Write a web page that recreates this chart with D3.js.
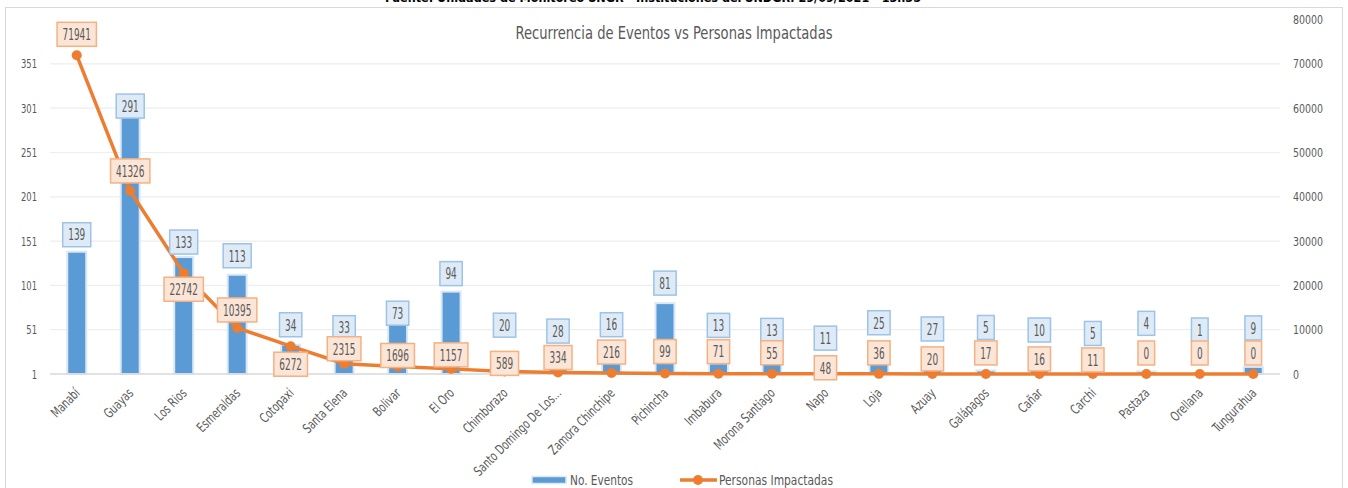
<!DOCTYPE html>
<html>
<head>
<meta charset="utf-8">
<script src="https://cdn.jsdelivr.net/npm/d3@7"></script>
<style>
  body { margin: 0; background: #fff; }
  svg text { font-family: "DejaVu Sans Condensed", "DejaVu Sans", sans-serif; }
</style>
</head>
<body>
<div id="chart"></div>
<script>
// Chart data.
const categories = ['Manabí', 'Guayas', 'Los Rios', 'Esmeraldas', 'Cotopaxi', 'Santa Elena',
    'Bolivar', 'El Oro', 'Chimborazo', 'Santo Domingo De Los...', 'Zamora Chinchipe',
    'Pichincha', 'Imbabura', 'Morona Santiago', 'Napo', 'Loja', 'Azuay', 'Galápagos',
    'Cañar', 'Carchi', 'Pastaza', 'Orellana', 'Tungurahua'];
const eventos = [139, 291, 133, 113, 34, 33, 73, 94, 20, 28, 16, 81, 13, 13, 11, 25, 27, 5, 10, 5, 4, 1, 9];
const personas = [71941, 41326, 22742, 10395, 6272, 2315, 1696, 1157, 589, 334, 216, 99, 71, 55, 48, 36, 20, 17, 16, 11, 0, 0, 0];
const leftTicks = [1, 51, 101, 151, 201, 251, 301, 351];
const rightTicks = [0, 10000, 20000, 30000, 40000, 50000, 60000, 70000, 80000];

// Manual label nudges (Excel moved overlapping labels by hand).
const blueDy = [-17, -11, -15, -19, -20, -18, 3, -18, -32, -19, -36, -20, -38, -33, -27, -30, -22, -43, -36, -37, -48, -44, -39];
const orangeDy = [-21, -20, 16, -18, 18, -15, -11, -14, -8, -15, -21, -22, -22, -21, -6, -21, -15, -21, -15, -14, -21, -21, -21];

const width = 1348, height = 488;
const plotLeft = 50, plotRight = 1280, plotBottom = 374, plotTop = 19.6;
const textColor = '#595959';
// The reference uses a very narrow font; squeeze DejaVu Condensed horizontally.
const squeeze = 0.62;

const svg = d3.select('#chart').append('svg')
    .attr('width', width)
    .attr('height', height);

// Chart frame.
svg.append('rect')
    .attr('x', 5.5).attr('y', 7.5)
    .attr('width', 1337).attr('height', 490)
    .attr('fill', 'none')
    .attr('stroke', '#d9d9d9');

// Source line, cut off by the top of the picture.
svg.append('text')
    .attr('x', 653).attr('y', 2)
    .attr('text-anchor', 'middle')
    .attr('font-size', 13).attr('font-weight', 'bold')
    .attr('fill', '#000')
    .attr('textLength', 536)
    .attr('lengthAdjust', 'spacingAndGlyphs')
    .text('Fuente: Unidades de Monitoreo SNGR - Instituciones del SNDGR. 29/09/2021 - 13h35');

// Title.
svg.append('text')
    .attr('x', 674).attr('y', 39)
    .attr('text-anchor', 'middle')
    .attr('font-size', 17)
    .attr('fill', textColor)
    .attr('textLength', 317)
    .attr('lengthAdjust', 'spacingAndGlyphs')
    .text('Recurrencia de Eventos vs Personas Impactadas');

// Scales.
const x = d3.scaleBand()
    .domain(categories)
    .range([plotLeft, plotRight])
    .paddingInner(0.645)
    .paddingOuter(0.3225);
const yL = d3.scaleLinear().domain([1, 401]).range([plotBottom, plotTop]);
const yR = d3.scaleLinear().domain([0, 80000]).range([plotBottom, plotTop]);
const cx = d => x(d) + x.bandwidth() / 2;

// Gridlines.
svg.append('g')
    .selectAll('line')
    .data(leftTicks.slice(1))
    .enter().append('line')
    .attr('x1', plotLeft).attr('x2', plotRight)
    .attr('y1', d => yL(d)).attr('y2', d => yL(d))
    .attr('stroke', '#eeeeee').attr('stroke-width', 1.2);

// Left axis.
const axisL = svg.append('g')
    .attr('transform', 'translate(' + (plotLeft - 13) + ',0)')
    .call(d3.axisLeft(yL).tickValues(leftTicks).tickSize(0).tickPadding(0));
axisL.select('.domain').remove();
axisL.selectAll('text').attr('font-size', 12.5).attr('fill', textColor)
    .attr('transform', 'scale(0.75,1)')
    .style('font-family', '"DejaVu Sans Condensed", sans-serif');

// Right axis.
const axisR = svg.append('g')
    .attr('transform', 'translate(' + (plotRight + 13) + ',0)')
    .call(d3.axisRight(yR).tickValues(rightTicks).tickSize(0).tickPadding(0).tickFormat(d3.format('d')));
axisR.select('.domain').remove();
axisR.selectAll('text').attr('font-size', 12.5).attr('fill', textColor)
    .attr('transform', 'scale(0.84,1)')
    .style('font-family', '"DejaVu Sans Condensed", sans-serif');

// Bars.
svg.append('g')
    .selectAll('rect')
    .data(eventos)
    .enter().append('rect')
    .attr('x', (d, i) => x(categories[i]))
    .attr('y', d => yL(d))
    .attr('width', x.bandwidth())
    .attr('height', d => plotBottom - yL(d))
    .attr('fill', '#5b9bd5')
    .attr('stroke', '#dae8f6').attr('stroke-width', 2);

// Baseline.
svg.append('line')
    .attr('x1', plotLeft).attr('x2', plotRight)
    .attr('y1', plotBottom).attr('y2', plotBottom)
    .attr('stroke', '#d9d9d9').attr('stroke-width', 1.5);

// Category labels.
svg.append('g')
    .selectAll('text')
    .data(categories)
    .enter().append('text')
    .attr('transform', d => 'translate(' + (cx(d) + 4) + ',' + (plotBottom + 20) + ')rotate(-45)scale(0.78,1)')
    .attr('text-anchor', 'end')
    .attr('font-size', 13.5)
    .attr('fill', textColor)
    .text(d => d);

// Line series.
const line = d3.line()
    .x((d, i) => cx(categories[i]))
    .y(d => yR(d));
svg.append('path')
    .datum(personas)
    .attr('d', line)
    .attr('fill', 'none')
    .attr('stroke', '#ed7d31')
    .attr('stroke-width', 3.5)
    .attr('stroke-linejoin', 'round');
svg.append('g')
    .selectAll('circle')
    .data(personas)
    .enter().append('circle')
    .attr('cx', (d, i) => cx(categories[i]))
    .attr('cy', d => yR(d))
    .attr('r', 5)
    .attr('fill', '#ed7d31');

// Boxed data labels.
function addLabels(values, yPos, fill, stroke) {
    const g = svg.append('g')
        .selectAll('g')
        .data(values)
        .enter().append('g')
        .attr('transform', (d, i) => 'translate(' + cx(categories[i]) + ',' + yPos(d, i) + ')');
    const rects = g.append('rect');
    const texts = g.append('text')
        .attr('text-anchor', 'middle')
        .attr('dy', '0.36em')
        .attr('font-size', 16)
        .attr('transform', 'scale(' + squeeze + ',1)')
        .attr('fill', textColor)
        .text(d => d);
    texts.each(function (d, i) {
        const w = this.getComputedTextLength() * squeeze + 11;
        d3.select(rects.nodes()[i])
            .attr('x', -w / 2).attr('y', -12)
            .attr('width', w).attr('height', 24)
            .attr('fill', fill)
            .attr('stroke', stroke).attr('stroke-width', 1.5);
    });
}
addLabels(eventos, (d, i) => yL(d) + blueDy[i], '#deebf7', '#9dc3e6');
addLabels(personas, (d, i) => yR(d) + orangeDy[i], '#fbe5d6', '#f4b183');

// Legend.
const legend = svg.append('g').attr('transform', 'translate(0,480)');
legend.append('rect')
    .attr('x', 532).attr('y', -3.5)
    .attr('width', 34).attr('height', 7)
    .attr('fill', '#5b9bd5')
    .attr('stroke', '#dae8f6').attr('stroke-width', 1.5);
legend.append('text')
    .attr('x', 570).attr('y', 0).attr('dy', '0.36em')
    .attr('font-size', 14).attr('fill', textColor)
    .attr('textLength', 63).attr('lengthAdjust', 'spacingAndGlyphs')
    .text('No. Eventos');
legend.append('line')
    .attr('x1', 680).attr('x2', 717)
    .attr('y1', 0).attr('y2', 0)
    .attr('stroke', '#ed7d31').attr('stroke-width', 3.5);
legend.append('circle')
    .attr('cx', 698).attr('cy', 0).attr('r', 5)
    .attr('fill', '#ed7d31');
legend.append('text')
    .attr('x', 719).attr('y', 0).attr('dy', '0.36em')
    .attr('font-size', 14).attr('fill', textColor)
    .attr('textLength', 114).attr('lengthAdjust', 'spacingAndGlyphs')
    .text('Personas Impactadas');
</script>
</body>
</html>
